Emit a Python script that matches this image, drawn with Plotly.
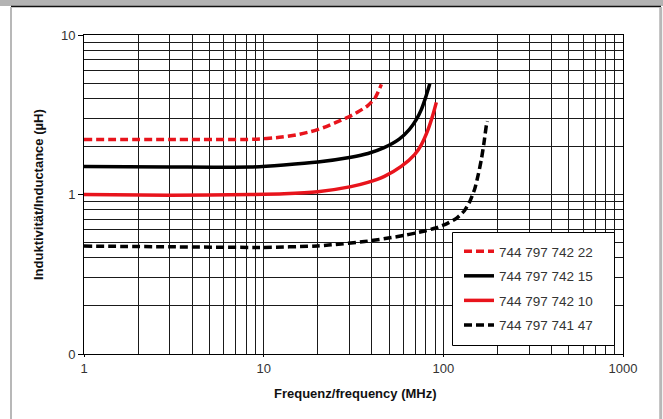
import plotly.graph_objects as go

# Inductance vs. frequency curves (MHz, µH)
freq_22 = [1, 3, 8.8, 12.6, 15.1, 18.3, 21.6, 24.9, 29.6, 33.4, 38, 41.7, 45.2]
ind_22 = [2.21, 2.21, 2.22, 2.29, 2.36, 2.48, 2.63, 2.81, 3.06, 3.29, 3.61, 4.03, 4.9]

freq_15 = [1, 3, 8.46, 12.93, 20.03, 30.6, 38.1, 46.8, 56.8, 64.6, 70.7, 75.4, 79.3, 84.1]
ind_15 = [1.5, 1.49, 1.486, 1.533, 1.6, 1.714, 1.808, 1.966, 2.223, 2.551, 2.948,
          3.405, 3.99, 4.956]

freq_10 = [1, 3, 8.5, 13, 20, 30.6, 38, 47, 58.3, 69.2, 75.4, 82.2, 87.6, 91.4]
ind_10 = [1.0, 0.99, 1.0, 1.01, 1.04, 1.12, 1.19, 1.3, 1.5, 1.78, 2.05, 2.55, 3.17, 3.78]

freq_47 = [1, 3, 10, 20, 23.7, 36.4, 55.8, 75.4, 89.4, 102.6, 118.2, 131.0, 140.6,
           149.6, 156.9, 163.1, 168.4, 173.9, 176.1]
ind_47 = [0.475, 0.47, 0.466, 0.476, 0.4835, 0.507, 0.545, 0.5835, 0.614, 0.65, 0.709,
          0.791, 0.907, 1.087, 1.35, 1.677, 2.113, 2.742, 2.877]

series_names = ["744 797 742 22", "744 797 742 15", "744 797 742 10", "744 797 741 47"]

x_major = [1, 10, 100, 1000]
x_major_text = ["1", "10", "100", "1000"]
y_major = [0.1, 1, 10]
y_major_text = ["0", "1", "10"]

W, H = 663, 419
ML, MR, MT, MB = 84, 40, 35, 65
PW, PH = W - ML - MR, H - MT - MB

FONT = "Liberation Sans, Arial, sans-serif"


def px_x(p):
    return (p - ML) / PW


def px_y(p):
    return (H - MB - p) / PH


def minor_vals(lo_exp, hi_exp):
    vals = []
    for e in range(lo_exp, hi_exp):
        for m in range(2, 10):
            vals.append(m * 10 ** e)
    return vals


fig = go.Figure()

styles = [
    dict(color="#e8141c", width=3.5, dash="8px,4px"),
    dict(color="#000000", width=3.5),
    dict(color="#e8141c", width=3.5),
    dict(color="#000000", width=3.5, dash="8px,4px"),
]
data = [(freq_22, ind_22), (freq_15, ind_15), (freq_10, ind_10), (freq_47, ind_47)]

for name, (fx, fy), st in zip(series_names, data, styles):
    fig.add_trace(go.Scatter(
        x=fx, y=fy, mode="lines", name=name, legendgroup=name,
        line=dict(shape="spline", smoothing=0.6, **st),
    ))

grid_col = "#1a1a1a"
fig.update_xaxes(
    type="log", range=[0, 3],
    tickmode="array", tickvals=x_major, ticktext=x_major_text,
    ticks="outside", ticklen=2, tickcolor="#000",
    showgrid=True, gridcolor=grid_col, gridwidth=1,
    minor=dict(tickvals=minor_vals(0, 3), showgrid=True, gridcolor=grid_col,
               gridwidth=1, ticklen=0),
    showline=True, linecolor="#000", linewidth=1, mirror=True,
    tickfont=dict(family=FONT, size=13, color="#333"),
    zeroline=False,
)
fig.update_yaxes(
    type="log", range=[-1, 1],
    tickmode="array", tickvals=y_major, ticktext=y_major_text,
    ticks="outside", ticklen=5, tickcolor="#000",
    showgrid=True, gridcolor=grid_col, gridwidth=1,
    minor=dict(tickvals=minor_vals(-1, 1), showgrid=True, gridcolor=grid_col,
               gridwidth=1, ticklen=0),
    showline=True, linecolor="#000", linewidth=1, mirror=True,
    tickfont=dict(family=FONT, size=13, color="#333"),
    zeroline=False,
)

shapes = [
    # grey header band with a dark rule beneath it
    dict(type="rect", xref="paper", yref="paper", x0=px_x(0), x1=px_x(W),
         y0=px_y(6), y1=px_y(0), fillcolor="#b3b3b3", line=dict(width=0), layer="above"),
    dict(type="line", xref="paper", yref="paper", x0=px_x(11), x1=px_x(661),
         y0=px_y(6.5), y1=px_y(6.5), line=dict(color="#111", width=1.5)),
    # grey side rules of the panel
    dict(type="line", xref="paper", yref="paper", x0=px_x(11), x1=px_x(11),
         y0=px_y(7), y1=px_y(H), line=dict(color="#b8b8b8", width=2)),
    dict(type="line", xref="paper", yref="paper", x0=px_x(660.7), x1=px_x(660.7),
         y0=px_y(7), y1=px_y(H), line=dict(color="#b8b8b8", width=3)),
    # framed white box behind the legend entries
    dict(type="rect", xref="paper", yref="paper", x0=px_x(452.5), x1=px_x(614.5),
         y0=px_y(345.5), y1=px_y(232.5), fillcolor="white",
         line=dict(color="#000", width=1), layer="above"),
]

annotations = [
    dict(text="<b>Frequenz/frequency (MHz)</b>", xref="paper", yref="paper",
         x=px_x(355), y=px_y(393), showarrow=False, xanchor="center", yanchor="middle",
         font=dict(family=FONT, size=13, color="#111")),
    dict(text="<b>Induktivität/Inductance (µH)</b>", xref="paper", yref="paper",
         x=px_x(39), y=px_y(195), showarrow=False, xanchor="center", yanchor="middle",
         textangle=-90, font=dict(family=FONT, size=13, color="#111")),
]

fig.update_layout(
    width=W, height=H,
    margin=dict(l=ML, r=MR, t=MT, b=MB, autoexpand=False),
    paper_bgcolor="white", plot_bgcolor="white",
    shapes=shapes, annotations=annotations,
    showlegend=True,
    legend=dict(
        x=px_x(459), y=px_y(236), xanchor="left", yanchor="top",
        bgcolor="rgba(0,0,0,0)", borderwidth=0,
        font=dict(family=FONT, size=13.5, color="#333"),
        tracegroupgap=4, itemwidth=30,
    ),
)

fig.write_html("out.html")
